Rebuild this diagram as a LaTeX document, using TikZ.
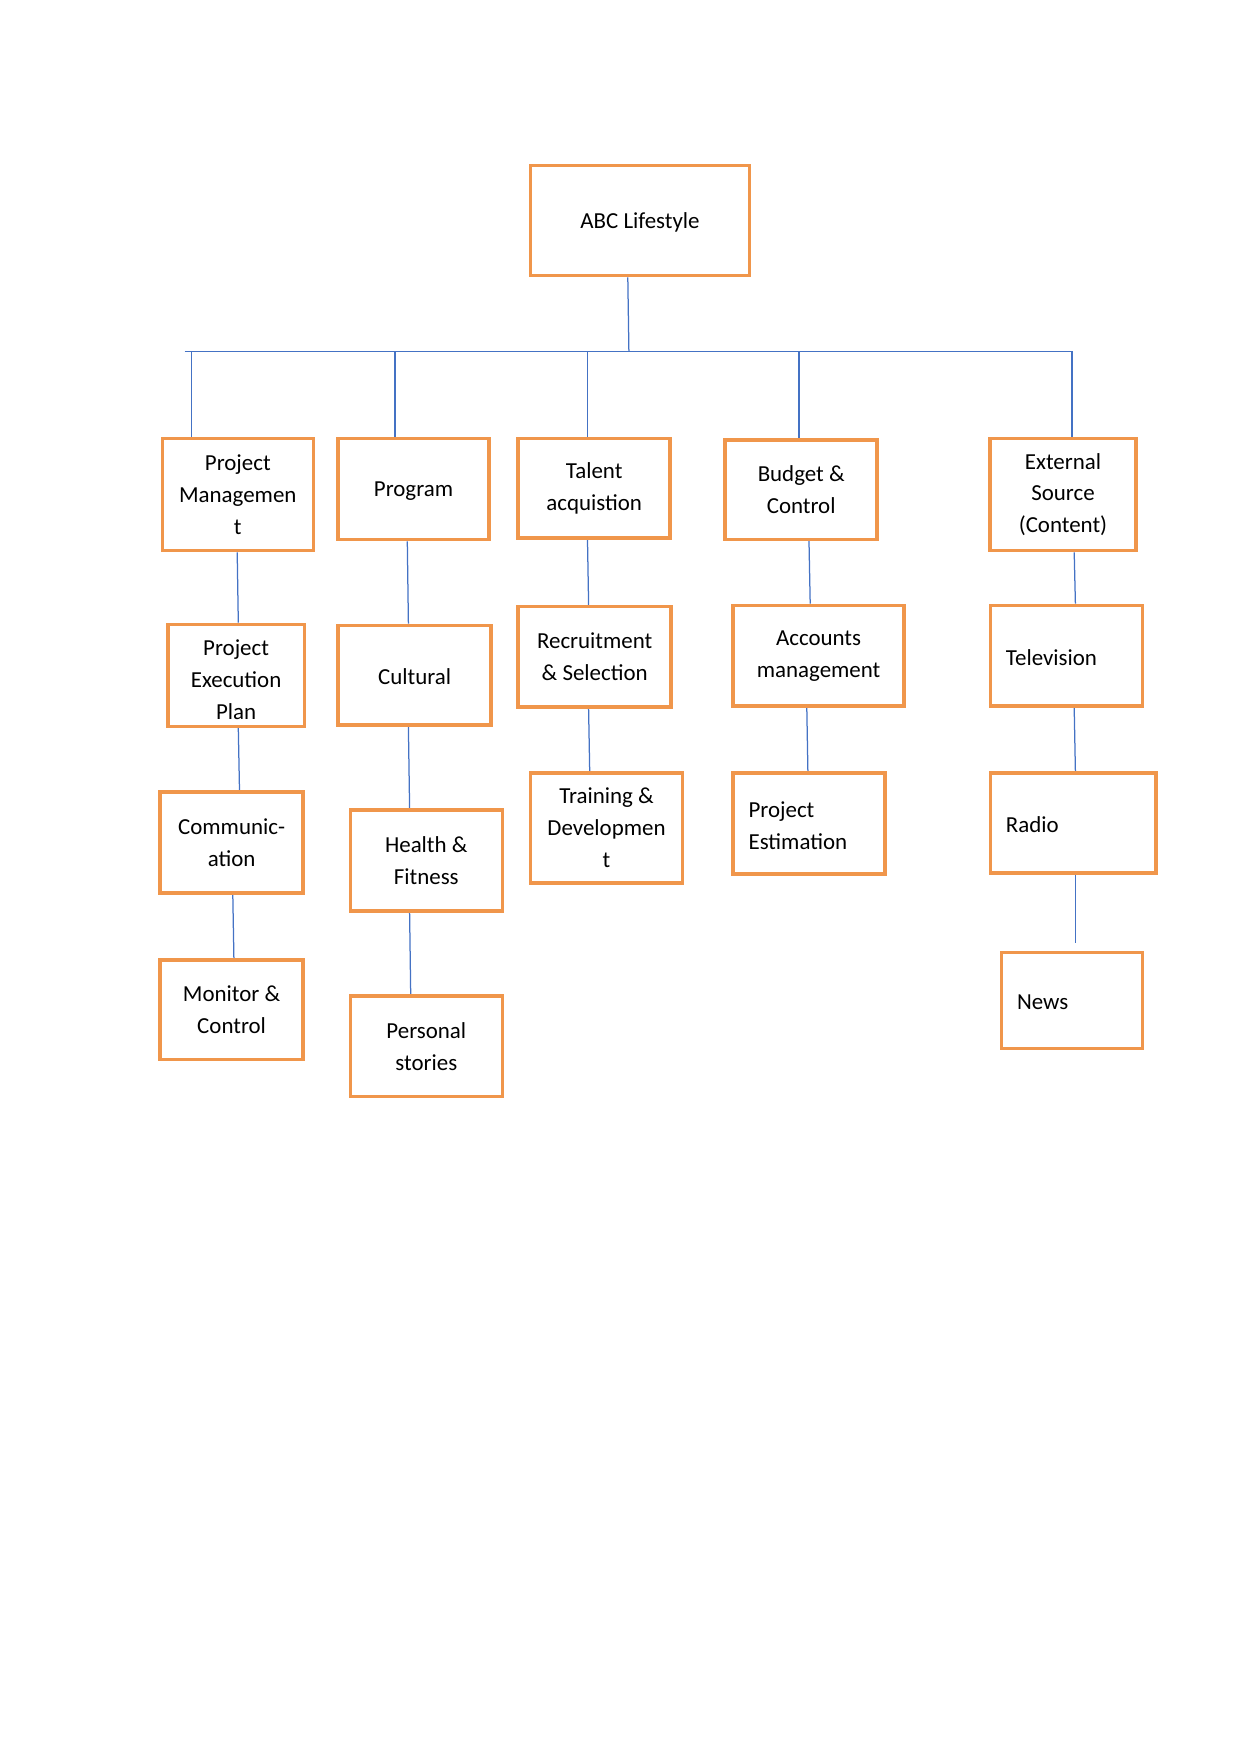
\documentclass[tikz,border=0pt]{standalone}
\usepackage{fontspec}
\setmainfont{Carlito}
\usetikzlibrary{backgrounds}
\definecolor{boxorange}{RGB}{240,150,75}
\definecolor{linkblue}{RGB}{68,114,196}
\tikzset{
  box/.style={draw=boxorange, line width=1.7pt, fill=white, rectangle, align=center,
    inner sep=2pt, text=black, font=\fontsize{11}{15.3}\selectfont,
    execute at begin node={\rule{0pt}{9.2pt}}},
  lbox/.style={box, align=left, inner xsep=7.5pt},
  sz/.style 2 args={minimum width=#1*0.48pt, minimum height=#2*0.48pt},
  link/.style={draw=linkblue, line width=0.6pt},
}
\begin{document}
\begin{tikzpicture}[x=0.48pt, y=-0.48pt]
\useasboundingbox (0,0) rectangle (1241,1754);
% top
\node[box, sz={219}{110}] (abc) at (640,220.5) {ABC Lifestyle};
% row 1
\node[box, sz={151}{112}] (pm) at (237.8,494.6) {Project\\Managemen\\t};
\node[box, sz={151}{101}] (prog) at (413.5,489) {Program};
\node[box, sz={152}{99.6}] (tal) at (594.2,488.4) {Talent\\acquistion};
\node[box, sz={152}{99.6}] (bud) at (801.2,489.6) {Budget \&\\Control};
\node[box, sz={145.5}{112}] (ext) at (1063,494.6) {External\\Source\\(Content)};
% row 2
\node[box, sz={136.5}{102}] (pep) at (236.1,675.3) {\rule{0pt}{11.5pt}Project\\Execution\\Plan};
\node[box, sz={153}{99.6}] (cul) at (414.6,675.3) {Cultural};
\node[box, sz={153}{100.7}] (rec) at (594.7,656.9) {Recruitment\\\& Selection};
\node[box, sz={171}{100.7}] (acc) at (818.6,655.7) {Accounts\\management};
\node[lbox, sz={152}{100.7}, text width=58pt] (tv) at (1066.4,655.7) {Television};
% row 3
\node[box, sz={143}{100.7}] (com) at (231.6,842.6) {Communic-\\ation};
\node[box, sz={152}{100.7}] (hea) at (426.3,860.5) {Health \&\\Fitness};
\node[box, sz={152}{109.7}] (tra) at (606.5,828) {Training \&\\Developmen\\t};
\node[lbox, sz={152}{100.7}, text width=58pt] (pe) at (809,823.6) {Project\\Estimation};
\node[lbox, sz={165.6}{99.6}, text width=64.5pt] (rad) at (1073.1,823) {Radio};
% row 4
\node[box, sz={143}{99.6}] (mon) at (231.6,1009.9) {Monitor \&\\Control};
\node[box, sz={152}{100.7}] (per) at (426.3,1046.2) {Personal\\stories};
\node[lbox, sz={141}{96}, text width=52.7pt] (news) at (1072,1000.4) {News};
% free ends
\coordinate (busL) at (184.6,351.4);
\coordinate (busR) at (1072,351.4);
\coordinate (busM) at (628.9,351.4);
\coordinate (newsEnd) at (1075.4,943.3);
\begin{pgfonlayer}{background}
\draw[link] (abc.south -| 627.8,0) -- (busM);
\draw[link] (busL) -- (busR);
\draw[link] (busL -| 191.3,0) -- (pm.north -| 191.3,0);
\draw[link] (busL -| 395,0) -- (prog.north -| 395,0);
\draw[link] (busL -| 587.5,0) -- (tal.north -| 587.5,0);
\draw[link] (busL -| 799,0) -- (bud.north -| 799,0);
\draw[link] (busR) -- (ext.north -| 1072,0);
% column links
\draw[link] (pm.south -| 237.2,0) -- (pep.north -| 238.3,0);
\draw[link] (pep.south -| 238.3,0) -- (com.north -| 239.5,0);
\draw[link] (com.south -| 232.8,0) -- (mon.north -| 233.9,0);
\draw[link] (prog.south -| 407.3,0) -- (cul.north -| 408.4,0);
\draw[link] (cul.south -| 408.4,0) -- (hea.north -| 409.6,0);
\draw[link] (hea.south -| 409.6,0) -- (per.north -| 410.7,0);
\draw[link] (tal.south -| 587.5,0) -- (rec.north -| 588.6,0);
\draw[link] (rec.south -| 588.6,0) -- (tra.north -| 589.7,0);
\draw[link] (bud.south -| 809,0) -- (acc.north -| 810.2,0);
\draw[link] (acc.south -| 806.8,0) -- (pe.north -| 807.9,0);
\draw[link] (ext.south -| 1074.2,0) -- (tv.north -| 1075.4,0);
\draw[link] (tv.south -| 1074.2,0) -- (rad.north -| 1075.4,0);
\draw[link] (rad.south -| 1075.4,0) -- (newsEnd);
\end{pgfonlayer}
\end{tikzpicture}
\end{document}
